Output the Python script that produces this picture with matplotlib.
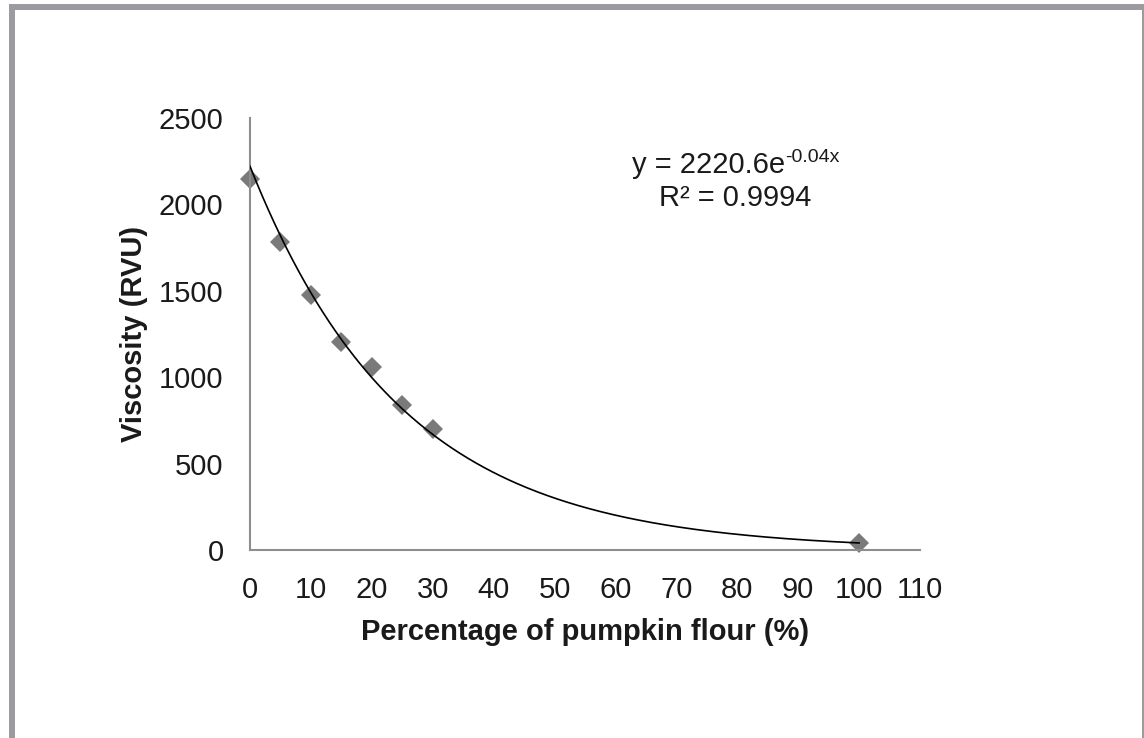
import numpy as np
import matplotlib
matplotlib.use("Agg")
import matplotlib.pyplot as plt
from matplotlib.patches import Rectangle

plt.rcParams['font.family'] = ['Liberation Sans', 'DejaVu Sans']

# measured data
pumpkin_pct = [0, 5, 10, 15, 20, 25, 30, 100]
viscosity = [2145, 1785, 1478, 1205, 1060, 838, 700, 40]

# exponential trendline y = a*exp(b*x)
fit_a = 2220.6
fit_b = -0.04
eq_main = "y = 2220.6e"
eq_sup = "-0.04x"
r2_text = "R² = 0.9994"

x_ticks = list(range(0, 111, 10))
y_ticks = list(range(0, 2501, 500))

W, H = 1144, 738
fig = plt.figure(figsize=(W / 100, H / 100), dpi=100)
ax = fig.add_axes([250 / W, 1 - 550 / H, 670 / W, 432 / H])

# gray frame round the whole chart (right/bottom edges mostly off canvas)
fig.patches.append(Rectangle((12 / W, 1 - 741 / H), 1133 / W, 734 / H,
                             transform=fig.transFigure, fill=False,
                             edgecolor='#9b9b9f', linewidth=4.3))

xx = np.linspace(0, 100, 300)
ax.plot(xx, fit_a * np.exp(fit_b * xx), color='black', linewidth=1.2, zorder=3)
ax.plot(pumpkin_pct, viscosity, linestyle='none', marker='D', markersize=10,
        color='#7a7a7a', markeredgewidth=0, clip_on=False, zorder=2)

ax.set_xlim(0, 110)
ax.set_ylim(0, 2500)
ax.set_xticks(x_ticks)
ax.set_yticks(y_ticks)
ax.tick_params(axis='both', length=0, labelsize=21, colors='#1a1a1a')
ax.tick_params(axis='x', pad=19)
ax.tick_params(axis='y', pad=19)

for side in ['top', 'right']:
    ax.spines[side].set_visible(False)
for side in ['left', 'bottom']:
    ax.spines[side].set_color('#8e8e92')
    ax.spines[side].set_linewidth(1.5)

ax.set_xlabel('Percentage of pumpkin flour (%)', fontsize=21, fontweight='bold',
              color='#1a1a1a', labelpad=10)
ax.set_ylabel('Viscosity (RVU)', fontsize=21, fontweight='bold',
              color='#1a1a1a', labelpad=8)

fig.text(785 / W, 1 - 173 / H, eq_main, fontsize=21, ha='right', va='baseline',
         color='#1a1a1a')
fig.text(785 / W, 1 - 162 / H, eq_sup, fontsize=14, ha='left', va='baseline',
         color='#1a1a1a')
fig.text(735 / W, 1 - 206 / H, r2_text, fontsize=21, ha='center', va='baseline',
         color='#1a1a1a')

fig.savefig('out.png', dpi=100)
